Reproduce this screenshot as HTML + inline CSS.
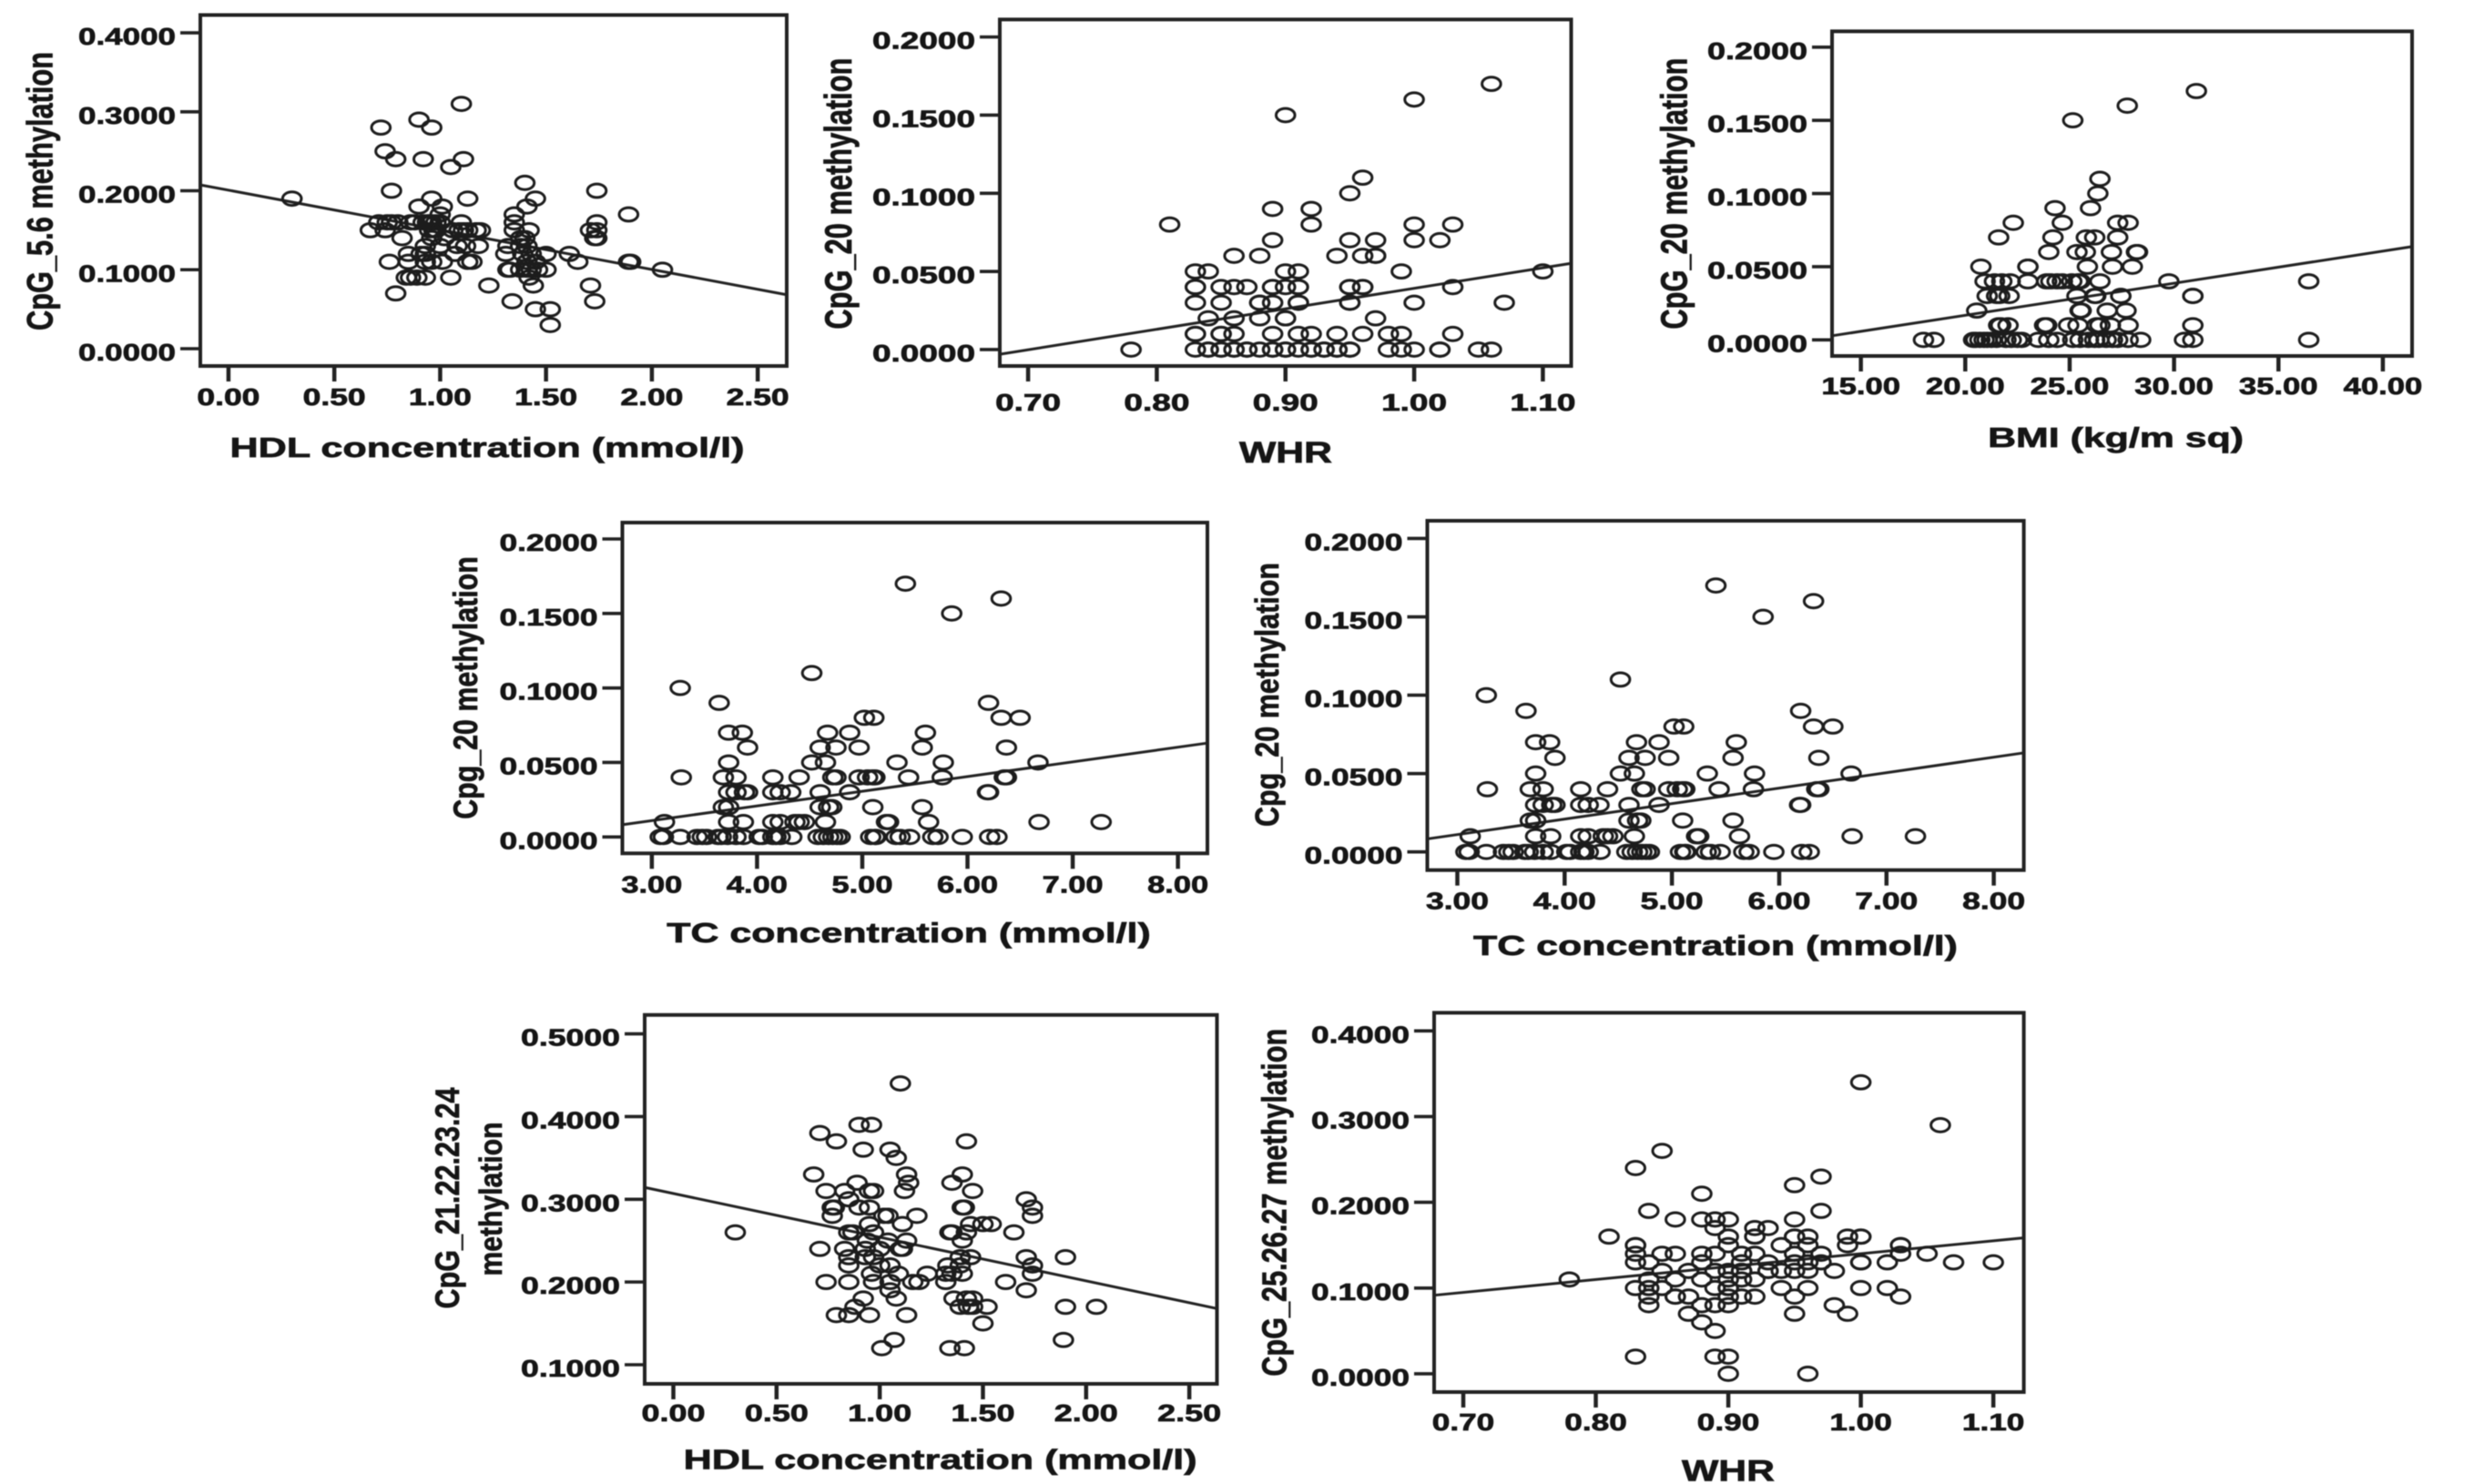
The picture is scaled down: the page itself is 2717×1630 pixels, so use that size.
<!DOCTYPE html>
<html lang="en">
<head>
<meta charset="utf-8">
<title>CpG methylation scatter plots</title>
<style>
html,body{margin:0;padding:0;background:#fff;}
svg{display:block;filter:blur(0.6px);}
text{font-family:"Liberation Sans",sans-serif;font-weight:bold;fill:#151515;stroke:#151515;stroke-width:0.7;}
.box{fill:none;stroke:#222;stroke-width:4;}
</style>
</head>
<body>
<svg id="figure" xmlns="http://www.w3.org/2000/svg" width="2717" height="1630" viewBox="0 0 2717 1630">
  <rect x="0" y="0" width="2717" height="1630" fill="#fff"/>

  <g id="panel-1">
    <text transform="translate(57.4,210) rotate(-90)" text-anchor="middle" font-size="40" textLength="306" lengthAdjust="spacingAndGlyphs">CpG_5.6 methylation</text>
    <text x="535" y="502" text-anchor="middle" font-size="31" textLength="565" lengthAdjust="spacingAndGlyphs">HDL concentration (mmol/l)</text>
  </g>
  <g id="panel-2">
    <text transform="translate(934.8,212.6) rotate(-90)" text-anchor="middle" font-size="42" textLength="298" lengthAdjust="spacingAndGlyphs">CpG_20 methylation</text>
    <text x="1412" y="508" text-anchor="middle" font-size="32" textLength="102" lengthAdjust="spacingAndGlyphs">WHR</text>
  </g>
  <g id="panel-3">
    <text transform="translate(1852.7,212.6) rotate(-90)" text-anchor="middle" font-size="41" textLength="298" lengthAdjust="spacingAndGlyphs">CpG_20 methylation</text>
    <text x="2323.6" y="491" text-anchor="middle" font-size="31" textLength="281" lengthAdjust="spacingAndGlyphs">BMI (kg/m sq)</text>
  </g>
  <g id="panel-4">
    <text transform="translate(523.8,755.5) rotate(-90)" text-anchor="middle" font-size="37" textLength="288.5" lengthAdjust="spacingAndGlyphs">Cpg_20 methylation</text>
    <text x="998" y="1035" text-anchor="middle" font-size="31" textLength="531.5" lengthAdjust="spacingAndGlyphs">TC concentration (mmol/l)</text>
  </g>
  <g id="panel-5">
    <text transform="translate(1404,763) rotate(-90)" text-anchor="middle" font-size="36" textLength="290" lengthAdjust="spacingAndGlyphs">Cpg_20 methylation</text>
    <text x="1884" y="1049" text-anchor="middle" font-size="31" textLength="532" lengthAdjust="spacingAndGlyphs">TC concentration (mmol/l)</text>
  </g>
  <g id="panel-6">
    <text transform="translate(504,1316) rotate(-90)" text-anchor="middle" font-size="37" textLength="243" lengthAdjust="spacingAndGlyphs">CpG_21.22.23.24</text>
    <text transform="translate(551,1317) rotate(-90)" text-anchor="middle" font-size="35" textLength="169" lengthAdjust="spacingAndGlyphs">methylation</text>
    <text x="1032.6" y="1613.5" text-anchor="middle" font-size="31" textLength="564" lengthAdjust="spacingAndGlyphs">HDL concentration (mmol/l)</text>
  </g>
  <g id="panel-7">
    <text transform="translate(1412.5,1320.8) rotate(-90)" text-anchor="middle" font-size="38" textLength="382" lengthAdjust="spacingAndGlyphs">CpG_25.26.27 methylation</text>
    <text x="1898" y="1626.6" text-anchor="middle" font-size="32" textLength="102" lengthAdjust="spacingAndGlyphs">WHR</text>
  </g>
</svg>

<script>
// Tick values
const hdlXTicks = [0, 0.5, 1, 1.5, 2, 2.5];
const whrXTicks = [0.7, 0.8, 0.9, 1.0, 1.1];
const bmiXTicks = [15, 20, 25, 30, 35, 40];
const tcXTicks = [3, 4, 5, 6, 7, 8];
const yTicks04 = [0, 0.1, 0.2, 0.3, 0.4];
const yTicks02 = [0, 0.05, 0.1, 0.15, 0.2];
const yTicks05 = [0.1, 0.2, 0.3, 0.4, 0.5];

// Panel 1: HDL vs CpG_5.6 (y level, then x values seen at that level)
const cpg56Levels = [0.31, 0.29, 0.28, 0.25, 0.24, 0.23, 0.21, 0.20, 0.19, 0.18, 0.17, 0.16, 0.15, 0.14, 0.13, 0.12, 0.11, 0.10, 0.09, 0.08, 0.07, 0.06, 0.05, 0.03];
const cpg56HdlAtLevel = [
  [1.10], [0.90], [0.72, 0.96], [0.74], [0.79, 0.92, 1.11], [1.05], [1.40], [0.77, 1.74],
  [0.30, 0.96, 1.13, 1.45], [0.90, 1.01, 1.41], [1.00, 1.35, 1.89],
  [0.71, 0.75, 0.77, 0.80, 0.86, 0.88, 0.92, 0.94, 0.95, 0.96, 0.98, 1.00, 1.10, 1.35, 1.74],
  [0.67, 0.74, 0.95, 0.97, 0.98, 1.06, 1.09, 1.11, 1.13, 1.17, 1.19, 1.35, 1.42, 1.71, 1.74],
  [0.82, 0.96, 1.02, 1.38, 1.40, 1.73, 1.74],
  [0.93, 1.00, 1.08, 1.12, 1.18, 1.32, 1.38, 1.41],
  [0.85, 0.91, 0.93, 1.07, 1.31, 1.39, 1.43, 1.50, 1.61],
  [0.76, 0.85, 0.93, 0.96, 1.01, 1.13, 1.15, 1.41, 1.45, 1.65, 1.89, 1.90],
  [1.32, 1.33, 1.38, 1.41, 1.43, 1.46, 1.50, 2.05],
  [0.84, 0.86, 0.89, 0.93, 1.05, 1.42], [1.23, 1.44, 1.71], [0.79], [1.34, 1.73], [1.45, 1.52], [1.52]
];
const cpg56FitEnds = [0.2074, 0.0683];

// Panel 2: WHR vs CpG_20
const cpg20Levels = [0.17, 0.16, 0.15, 0.11, 0.10, 0.09, 0.08, 0.07, 0.06, 0.05, 0.04, 0.03, 0.02, 0.01, 0.00];
const cpg20WhrAtLevel = [
  [1.06], [1.00], [0.90], [0.96], [0.95], [0.89, 0.92], [0.81, 0.92, 1.00, 1.03],
  [0.89, 0.95, 0.97, 1.00, 1.02],
  [0.86, 0.88, 0.94, 0.96, 0.97, 0.97],
  [0.83, 0.84, 0.90, 0.91, 0.99, 1.10],
  [0.83, 0.83, 0.85, 0.86, 0.87, 0.89, 0.89, 0.90, 0.91, 0.91, 0.95, 0.95, 0.96, 0.96, 1.03],
  [0.83, 0.85, 0.88, 0.88, 0.89, 0.91, 0.91, 0.95, 0.95, 1.00, 1.07],
  [0.84, 0.86, 0.88, 0.90, 0.90, 0.97],
  [0.83, 0.83, 0.85, 0.85, 0.86, 0.89, 0.91, 0.92, 0.94, 0.96, 0.98, 0.99, 1.03],
  [0.78, 0.83, 0.84, 0.84, 0.85, 0.85, 0.86, 0.86, 0.87, 0.87, 0.88, 0.89, 0.89, 0.90, 0.90, 0.91, 0.92, 0.92, 0.93, 0.93, 0.94, 0.94, 0.95, 0.95, 0.98, 0.99, 1.00, 1.02, 1.02, 1.05, 1.06]
];
const whr20FitEnds = [-0.003, 0.0552];

// Panel 3: BMI vs CpG_20
const bmi20Levels = [0.17, 0.16, 0.15, 0.11, 0.10, 0.09, 0.08, 0.07, 0.06, 0.05, 0.04, 0.03, 0.02, 0.01, 0.00];
const cpg20BmiAtLevel = [
  [31.07], [27.76], [25.15], [26.45], [26.35], [24.3, 26.0], [22.3, 24.65, 27.3, 27.8],
  [21.6, 24.2, 25.8, 26.2, 27.3],
  [24.0, 25.35, 25.75, 27.0, 28.2, 28.25],
  [20.75, 23.0, 23.0, 25.85, 27.05, 28.0],
  [20.95, 21.4, 21.75, 22.15, 23.0, 23.9, 24.1, 24.4, 24.65, 25.1, 25.4, 25.5, 26.45, 29.75, 36.45],
  [21.05, 21.5, 21.65, 22.1, 25.35, 26.2, 26.25, 27.45, 27.45, 30.9, 30.9],
  [20.55, 25.5, 25.55, 26.8, 27.7],
  [21.6, 21.7, 22.05, 23.8, 23.9, 24.95, 25.4, 26.3, 26.45, 26.95, 27.8, 30.9],
  [18.0, 18.5, 20.4, 20.5, 20.7, 20.9, 21.05, 21.25, 21.5, 21.95, 22.2, 22.5, 22.7, 23.5, 24.0, 24.4, 25.15, 25.5, 25.9, 26.2, 26.4, 26.75, 27.05, 27.3, 27.8, 28.4, 30.5, 30.9, 36.45]
];
const bmi20FitEnds = [0.0028, 0.0637];

// Panels 4 and 5: TC vs CpG_20
const tc20Levels = [0.17, 0.16, 0.15, 0.11, 0.10, 0.09, 0.08, 0.07, 0.06, 0.05, 0.04, 0.03, 0.02, 0.01, 0.00];
const cpg20TcAtLevel = [
  [5.41], [6.32], [5.85], [4.52], [3.27], [3.64, 6.20], [5.02, 5.11, 6.32, 6.50],
  [3.73, 3.86, 4.67, 4.88, 5.60],
  [3.91, 4.60, 4.75, 4.97, 5.57, 6.37],
  [3.73, 4.52, 4.65, 5.33, 5.77, 6.67],
  [3.28, 3.68, 3.80, 4.15, 4.40, 4.72, 4.75, 4.97, 5.05, 5.10, 5.12, 5.44, 5.76, 6.35, 6.37],
  [3.73, 3.80, 3.88, 3.91, 4.15, 4.22, 4.32, 4.60, 4.88, 6.19, 6.20],
  [3.68, 3.73, 4.60, 4.68, 4.71, 5.10, 5.57],
  [3.12, 3.73, 3.87, 4.15, 4.22, 4.36, 4.40, 4.45, 4.65, 5.23, 5.25, 5.63, 6.68, 7.27],
  [3.08, 3.11, 3.27, 3.43, 3.48, 3.52, 3.63, 3.66, 3.72, 3.80, 3.87, 4.02, 4.05, 4.15, 4.18, 4.22, 4.33, 4.58, 4.63, 4.68, 4.72, 4.76, 4.79, 5.08, 5.12, 5.13, 5.32, 5.36, 5.45, 5.67, 5.72, 5.95, 6.21, 6.28]
];
const tc20LeftFitEnds = [0.0082, 0.063];
const tc20RightFitEnds = [0.0083, 0.0632];

// Panel 6: HDL vs CpG_21.22.23.24
const cpg2124Levels = [0.44, 0.39, 0.38, 0.37, 0.36, 0.35, 0.33, 0.32, 0.31, 0.30, 0.29, 0.28, 0.27, 0.26, 0.25, 0.24, 0.23, 0.22, 0.21, 0.20, 0.19, 0.18, 0.17, 0.16, 0.15, 0.13, 0.12];
const cpg2124HdlAtLevel = [
  [1.10], [0.90, 0.96], [0.71], [0.79, 1.42], [0.92, 1.05], [1.08], [0.68, 1.13, 1.40], [0.89, 1.14, 1.35],
  [0.74, 0.83, 0.95, 0.97, 1.12, 1.45], [0.85, 1.71],
  [0.77, 0.78, 0.90, 0.95, 1.40, 1.41, 1.74], [0.77, 1.02, 1.04, 1.18, 1.74],
  [0.95, 1.11, 1.44, 1.50, 1.54], [0.30, 0.85, 0.87, 0.97, 1.34, 1.35, 1.42, 1.65],
  [0.94, 1.04, 1.13, 1.40], [0.71, 0.83, 0.93, 1.00, 1.10, 1.11],
  [0.85, 0.93, 0.97, 1.39, 1.44, 1.71, 1.90], [0.85, 1.00, 1.05, 1.33, 1.39, 1.74],
  [0.96, 1.09, 1.23, 1.32, 1.35, 1.40, 1.74], [0.74, 0.85, 0.97, 1.05, 1.16, 1.19, 1.32, 1.61],
  [1.05, 1.71], [0.92, 1.08, 1.36, 1.42, 1.45], [0.88, 1.39, 1.43, 1.45, 1.52, 1.90, 2.05],
  [0.79, 0.85, 0.95, 1.13], [1.50], [1.07, 1.89], [1.01, 1.34, 1.41]
];
const cpg2124FitEnds = [0.3143, 0.1679];

// Panel 7: WHR vs CpG_25.26.27
const cpg2527Levels = [0.34, 0.29, 0.26, 0.24, 0.23, 0.22, 0.21, 0.19, 0.18, 0.17, 0.16, 0.15, 0.14, 0.13, 0.12, 0.11, 0.10, 0.09, 0.08, 0.07, 0.06, 0.05, 0.02, 0.00];
const cpg2527WhrAtLevel = [
  [1.00], [1.06], [0.85], [0.83], [0.97], [0.95], [0.88], [0.84, 0.97],
  [0.86, 0.88, 0.89, 0.90, 0.95], [0.89, 0.92, 0.93],
  [0.81, 0.90, 0.92, 0.92, 0.95, 0.95, 0.96, 0.99, 1.00, 1.00],
  [0.83, 0.83, 0.90, 0.94, 0.96, 0.99, 1.03, 1.03],
  [0.83, 0.85, 0.86, 0.88, 0.89, 0.91, 0.92, 0.95, 0.97, 1.03, 1.05],
  [0.83, 0.84, 0.88, 0.91, 0.93, 0.95, 0.96, 0.97, 1.00, 1.00, 1.02, 1.07, 1.10],
  [0.85, 0.87, 0.89, 0.90, 0.91, 0.91, 0.93, 0.93, 0.94, 0.95, 0.96, 0.98],
  [0.78, 0.84, 0.86, 0.88, 0.90, 0.91, 0.92],
  [0.83, 0.84, 0.85, 0.89, 0.90, 0.90, 0.94, 0.96, 1.00, 1.02],
  [0.84, 0.86, 0.86, 0.87, 0.90, 0.91, 0.92, 0.95, 1.03],
  [0.84, 0.88, 0.89, 0.90, 0.98], [0.87, 0.95, 0.99], [0.88], [0.89], [0.83, 0.89, 0.90], [0.90, 0.96]
];
const cpg2527FitEnds = [0.0916, 0.1586];

// Layout for each panel: pixel frame and the axis range that frame spans.
const panels = [
  {id:'panel-1', frame:{l:220,r:864,t:16.5,b:402}, xRange:[-0.133,2.637], yRange:[-0.0219,0.4225], xTicks:hdlXTicks, yTicks:yTicks04, levels:cpg56Levels, xs:cpg56HdlAtLevel, fit:cpg56FitEnds, yLabelW:107, xLabelW:69, xLabelDy:43},
  {id:'panel-2', frame:{l:1098,r:1725.5,t:21.4,b:402}, xRange:[0.678,1.122], yRange:[-0.0105,0.2112], xTicks:whrXTicks, yTicks:yTicks02, levels:cpg20Levels, xs:cpg20WhrAtLevel, fit:whr20FitEnds, yLabelW:113, xLabelW:72, xLabelDy:49},
  {id:'panel-3', frame:{l:2012,r:2649,t:34.4,b:391}, xRange:[13.62,41.4], yRange:[-0.011,0.2108], xTicks:bmiXTicks, yTicks:yTicks02, levels:bmi20Levels, xs:cpg20BmiAtLevel, fit:bmi20FitEnds, yLabelW:110, xLabelW:86.6, xLabelDy:42},
  {id:'panel-4', frame:{l:683.5,r:1326,t:574,b:937.3}, xRange:[2.72,8.28], yRange:[-0.011,0.211], xTicks:tcXTicks, yTicks:yTicks02, levels:tc20Levels, xs:cpg20TcAtLevel, fit:tc20LeftFitEnds, yLabelW:108, xLabelW:67, xLabelDy:43},
  {id:'panel-5', frame:{l:1567.5,r:2222.6,t:572,b:955.7}, xRange:[2.72,8.28], yRange:[-0.0116,0.2113], xTicks:tcXTicks, yTicks:yTicks02, levels:tc20Levels, xs:cpg20TcAtLevel, fit:tc20RightFitEnds, yLabelW:108, xLabelW:69, xLabelDy:43},
  {id:'panel-6', frame:{l:708,r:1336.5,t:1114.8,b:1520}, xRange:[-0.139,2.634], yRange:[0.0769,0.5228], xTicks:hdlXTicks, yTicks:yTicks05, levels:cpg2124Levels, xs:cpg2124HdlAtLevel, fit:cpg2124FitEnds, yLabelW:109, xLabelW:70, xLabelDy:41},
  {id:'panel-7', frame:{l:1575,r:2222.6,t:1112.4,b:1529}, xRange:[0.678,1.123], yRange:[-0.0213,0.4211], xTicks:whrXTicks, yTicks:yTicks04, levels:cpg2527Levels, xs:cpg2527WhrAtLevel, fit:cpg2527FitEnds, yLabelW:108, xLabelW:68.5, xLabelDy:42}
];

const NS = 'http://www.w3.org/2000/svg';

function svgEl(parent, tag, attrs) {
  const node = document.createElementNS(NS, tag);
  for (const k in attrs) node.setAttribute(k, attrs[k]);
  parent.appendChild(node);
  return node;
}

function linear(domain, range) {
  return function (v) {
    return range[0] + (v - domain[0]) / (domain[1] - domain[0]) * (range[1] - range[0]);
  };
}

function drawPanel(p) {
  const g = document.getElementById(p.id);
  const f = p.frame;
  const xScale = linear(p.xRange, [f.l, f.r]);
  const yScale = linear(p.yRange, [f.b, f.t]);

  const box = svgEl(g, 'rect', {x: f.l, y: f.t, width: f.r - f.l, height: f.b - f.t, 'class': 'box'});
  
  

  p.yTicks.forEach(function (t) {
    const y = yScale(t);
    const mark = svgEl(g, 'line', {x1: f.l - 22, x2: f.l, y1: y, y2: y, stroke: '#222', 'stroke-width': 3.6});
    
    
    const label = svgEl(g, 'text', {x: f.l - 27, y: y + 13, 'text-anchor': 'end', 'font-size': 25.5, textLength: p.yLabelW, lengthAdjust: 'spacingAndGlyphs'});
    label.textContent = t.toFixed(4);
    
    
  });

  p.xTicks.forEach(function (t) {
    const x = xScale(t);
    const mark = svgEl(g, 'line', {x1: x, x2: x, y1: f.b, y2: f.b + 17, stroke: '#222', 'stroke-width': 4.5});
    
    
    const label = svgEl(g, 'text', {x: x, y: f.b + p.xLabelDy, 'text-anchor': 'middle', 'font-size': 25.5, textLength: p.xLabelW, lengthAdjust: 'spacingAndGlyphs'});
    label.textContent = t.toFixed(2);
    
    
  });

  const fitLine = svgEl(g, 'line', {
    x1: xScale(p.xRange[0]), y1: yScale(p.fit[0]),
    x2: xScale(p.xRange[1]), y2: yScale(p.fit[1]),
    stroke: '#222', 'stroke-width': 3
  });
  
  

  p.levels.forEach(function (level, i) {
    p.xs[i].forEach(function (v) {
      const point = svgEl(g, 'ellipse', {
        cx: xScale(v), cy: yScale(level), rx: 10.3, ry: 7.4,
        fill: 'none', stroke: '#1c1c1c', 'stroke-width': 3
      });
      
      
    });
  });
}

panels.forEach(drawPanel);
</script>
</body>
</html>
